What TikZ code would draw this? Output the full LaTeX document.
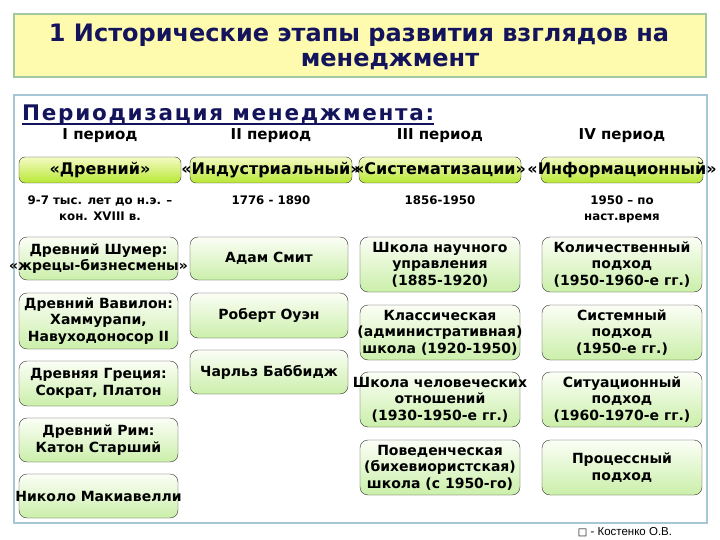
\documentclass[tikz,border=0pt]{standalone}
\usepackage{fontspec}
\setmainfont{DejaVu Sans}
\newfontfamily\footfont{Liberation Sans}
\newfontfamily\spacedfont[LetterSpace=8]{DejaVu Sans}
\usetikzlibrary{calc}
\definecolor{navy}{HTML}{14145C}
\definecolor{titlefill}{HTML}{FFFBAE}
\definecolor{titleline}{HTML}{A3C7A0}
\definecolor{frameline}{HTML}{A6C6D6}
\definecolor{limetop}{HTML}{F4FAC4}
\definecolor{limebot}{HTML}{B8E834}
\definecolor{leaftop}{HTML}{FBFEF6}
\definecolor{leafbot}{HTML}{CBEFAA}
\tikzset{every node/.style={font=\bfseries},
  period/.style={draw=black!80,rounded corners=6pt,top color=limetop,bottom color=limebot,minimum width=162pt,minimum height=26pt},
  leaf/.style={draw=black!80,rounded corners=8pt,top color=leaftop,bottom color=leafbot},
  leaftext/.style={align=center,font=\bfseries\fontsize{14}{16.5}\selectfont,inner sep=0pt},
  datetext/.style={align=center,font=\bfseries\fontsize{11.8}{16.5}\selectfont}}

\begin{document}
\begin{tikzpicture}[x=1pt,y=-1pt]
\useasboundingbox (0,0) rectangle (720,540);
\fill[white] (0,0) rectangle (720,540);
\draw[titleline,line width=1.2pt,fill=titlefill] (14,14) rectangle (706,77);
\node[navy,font=\bfseries\fontsize{24}{28}\selectfont] (title1) at (359,35) {1 Исторические этапы развития взглядов на};
\node[navy,font=\bfseries\fontsize{24}{28}\selectfont] (title2) at (390,61) {менеджмент};
\draw[frameline,line width=1.2pt] (14,95) rectangle (707,523);
\node[navy,anchor=base west,inner sep=0pt,font=\spacedfont\bfseries\fontsize{21.5}{24}\selectfont] (per) at (22,121) {Периодизация менеджмента:};
\draw[navy,line width=1.6pt] ($(per.base west)+(0,3)$) -- ($(per.base east)+(0,3)$);
% periods
\foreach \n/\x/\r/\name/\d in {1/100/I/«Древний»/{9-7 тыс. лет до н.э. –\\кон. XVIII в.},
  2/271/II/«Индустриальный»/{1776 - 1890},
  3/440/III/«Систематизации»/{1856-1950},
  4/622/IV/«Информационный»/{1950 – по\\наст.время}}{
  \node[font=\bfseries\fontsize{15}{18}\selectfont] (p\n) at (\x,136) {\r\ период};
  \node[period] (b\n) at (\x,170) {};
  \node[font=\bfseries\fontsize{16}{18}\selectfont,inner sep=0pt] (bt\n) at (b\n) {\name};
  \node[datetext,anchor=north] (d\n) at (\x,192) {\d};
}
% column 1
\foreach \n/\y/\h/\t in {a/258.5/43/{Древний Шумер:\\«жрецы-бизнесмены»},
  b/321/56/{Древний Вавилон:\\Хаммурапи,\\Навуходоносор II},
  c/383.5/45/{Древняя Греция:\\Сократ, Платон},
  d/440/44/{Древний Рим:\\Катон Старший},
  e/496/44/{Николо Макиавелли}}{
  \node[leaf,minimum width=159pt,minimum height=\h pt] (c1\n) at (98.5,\y) {};
  \node[leaftext] (c1\n-t) at (c1\n) {\t};
}
% column 2
\foreach \n/\y/\h/\t in {a/258.5/43/{Адам Смит},b/315.5/45/{Роберт Оуэн},c/372/44/{Чарльз Баббидж}}{
  \node[leaf,minimum width=158pt,minimum height=\h pt] (c2\n) at (269,\y) {};
  \node[leaftext] (c2\n-t) at (c2\n) {\t};
}
% column 3
\foreach \n/\y/\t in {a/264.5/{Школа научного\\управления\\(1885-1920)},
  b/332.5/{Классическая\\(административная)\\школа (1920-1950)},
  c/399.5/{Школа человеческих\\отношений\\(1930-1950-е гг.)},
  d/467.5/{Поведенческая\\(бихевиористская)\\школа (с 1950-го)}}{
  \node[leaf,minimum width=160pt,minimum height=55pt] (c3\n) at (440,\y) {};
  \node[leaftext] (c3\n-t) at (c3\n) {\t};
}
% column 4
\foreach \n/\y/\t in {a/264.5/{Количественный\\подход\\(1950-1960-е гг.)},
  b/332.5/{Системный\\подход\\(1950-е гг.)},
  c/399.5/{Ситуационный\\подход\\(1960-1970-е гг.)},
  d/467.5/{Процессный\\подход}}{
  \node[leaf,minimum width=160pt,minimum height=55pt] (c4\n) at (622,\y) {};
  \node[leaftext] (c4\n-t) at (c4\n) {\t};
}
\node[font=\footfont\fontsize{11.5}{13}\selectfont] (foot) at (625,532) {{\fontspec{DejaVu Sans}\fontsize{10}{10}\selectfont□} - Костенко О.В.};
\end{tikzpicture}
\end{document}
